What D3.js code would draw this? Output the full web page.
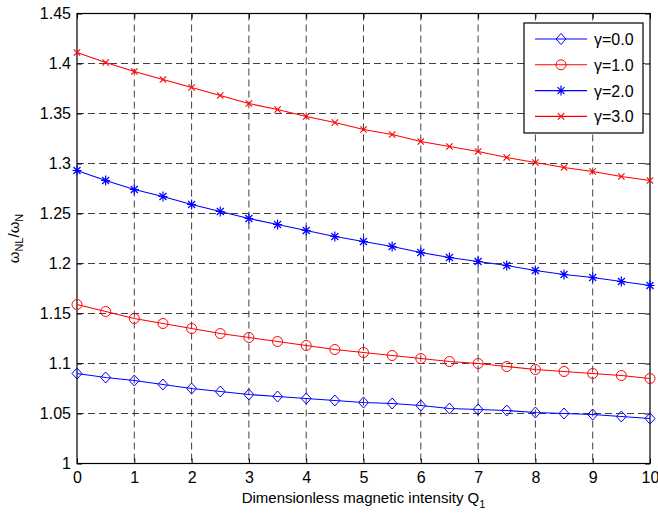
<!DOCTYPE html>
<html>
<head>
<meta charset="utf-8">
<script src="https://cdn.jsdelivr.net/npm/d3@7"></script>
<style>
  body { margin: 0; background: #fff; }
  svg { font-family: Arial, "Liberation Sans", sans-serif; }
</style>
</head>
<body>
<div id="chart"></div>
<script>
// Q1 values (0 .. 10 step 0.5)
const q1 = [0,0.5,1,1.5,2,2.5,3,3.5,4,4.5,5,5.5,6,6.5,7,7.5,8,8.5,9,9.5,10];

const gamma0 = [1.090,1.086,1.083,1.079,1.075,1.072,1.069,1.067,1.065,1.063,1.061,
                1.060,1.058,1.055,1.054,1.053,1.051,1.050,1.049,1.047,1.045];
const gamma1 = [1.159,1.152,1.145,1.140,1.135,1.130,1.126,1.122,1.118,1.114,1.111,
                1.108,1.105,1.102,1.100,1.097,1.094,1.092,1.090,1.088,1.085];
const gamma2 = [1.293,1.283,1.274,1.267,1.259,1.252,1.245,1.239,1.233,1.227,1.222,
                1.217,1.211,1.206,1.202,1.198,1.193,1.189,1.186,1.182,1.178];
const gamma3 = [1.411,1.401,1.392,1.384,1.376,1.368,1.360,1.354,1.347,1.341,1.334,
                1.329,1.322,1.317,1.312,1.306,1.301,1.296,1.292,1.287,1.283];

const xTicks = [0,1,2,3,4,5,6,7,8,9,10];
const yTicks = [1,1.05,1.1,1.15,1.2,1.25,1.3,1.35,1.4,1.45];

const series = [
  { name: 'γ=0.0', values: gamma0, color: '#0000ff', marker: 'diamond' },
  { name: 'γ=1.0', values: gamma1, color: '#ff0000', marker: 'circle' },
  { name: 'γ=2.0', values: gamma2, color: '#0000ff', marker: 'star' },
  { name: 'γ=3.0', values: gamma3, color: '#ff0000', marker: 'cross' },
];

const W = 658, H = 514;
const m = { left: 77, right: 8, top: 13.5, bottom: 50.5 };
const iw = W - m.left - m.right, ih = H - m.top - m.bottom;

const x = d3.scaleLinear().domain([0, 10]).range([0, iw]);
const y = d3.scaleLinear().domain([1, 1.45]).range([ih, 0]);

const svg = d3.select('#chart').append('svg').attr('width', W).attr('height', H);
const g = svg.append('g').attr('transform', `translate(${m.left},${m.top})`);

// grid
g.append('g').selectAll('line').data(xTicks.slice(1, -1)).join('line')
  .attr('x1', d => x(d)).attr('x2', d => x(d)).attr('y1', 0).attr('y2', ih)
  .attr('stroke', '#000').attr('stroke-opacity', 0.75).attr('stroke-dasharray', '7,4');
g.append('g').selectAll('line').data(yTicks.slice(1, -1)).join('line')
  .attr('y1', d => y(d)).attr('y2', d => y(d)).attr('x1', 0).attr('x2', iw)
  .attr('stroke', '#000').attr('stroke-opacity', 0.75).attr('stroke-dasharray', '7,4');

// axes (ticks inside)
const fmtY = d => d3.format('')(+d.toFixed(2));
const axB = g.append('g').attr('transform', `translate(0,${ih})`)
  .call(d3.axisBottom(x).tickValues(xTicks).tickSize(-5).tickPadding(8).tickFormat(d3.format('d')));
const axL = g.append('g')
  .call(d3.axisLeft(y).tickValues(yTicks).tickSize(-5).tickPadding(6).tickFormat(fmtY));
const axT = g.append('g').call(d3.axisTop(x).tickValues(xTicks).tickSize(-5).tickFormat(''));
const axR = g.append('g').attr('transform', `translate(${iw},0)`)
  .call(d3.axisRight(y).tickValues(yTicks).tickSize(-5).tickFormat(''));
[axB, axL, axT, axR].forEach(a => {
  a.select('.domain').remove();
  a.selectAll('line').attr('stroke', '#000');
  a.selectAll('text').attr('fill', '#000').style('font-size', '16px');
});
g.append('rect').attr('width', iw).attr('height', ih)
  .attr('fill', 'none').attr('stroke', '#000').attr('stroke-width', 1.2);

// markers
function drawMarker(sel, type, color) {
  if (type === 'diamond') {
    sel.append('path').attr('d', 'M0,-5.5L5,0L0,5.5L-5,0Z')
      .attr('fill', 'none').attr('stroke', color);
  } else if (type === 'circle') {
    sel.append('circle').attr('r', 5).attr('fill', 'none').attr('stroke', color);
  } else if (type === 'star') {
    sel.append('path').attr('d', 'M-4.5,0H4.5M0,-5V5M-3.5,-3.5L3.5,3.5M-3.5,3.5L3.5,-3.5')
      .attr('stroke', color).attr('stroke-width', 1.2);
  } else {
    sel.append('path').attr('d', 'M-3.2,-3.2L3.2,3.2M-3.2,3.2L3.2,-3.2')
      .attr('stroke', color).attr('stroke-width', 1.1);
  }
}

const line = d3.line().x((d, i) => x(q1[i])).y(d => y(d));
series.forEach(s => {
  g.append('path').datum(s.values).attr('d', line)
    .attr('fill', 'none').attr('stroke', s.color).attr('stroke-width', 1.1);
  s.values.forEach((v, i) => {
    const mk = g.append('g').attr('transform', `translate(${x(q1[i])},${y(v)})`);
    drawMarker(mk, s.marker, s.color);
  });
});

// legend
const lg = svg.append('g').attr('transform', 'translate(524,23)');
lg.append('rect').attr('width', 119).attr('height', 110)
  .attr('fill', '#fff').attr('stroke', '#000').attr('stroke-width', 1.2);
series.forEach((s, i) => {
  const yy = 16 + i * 25.8;
  lg.append('line').attr('x1', 11).attr('x2', 63).attr('y1', yy).attr('y2', yy)
    .attr('stroke', s.color).attr('stroke-width', 1.1);
  drawMarker(lg.append('g').attr('transform', `translate(37,${yy})`), s.marker, s.color);
  lg.append('text').attr('x', 70).attr('y', yy + 6).text(s.name)
    .style('font-size', '16px').attr('fill', '#000');
});

// axis labels
const xl = svg.append('text').attr('x', m.left + iw / 2).attr('y', 503)
  .attr('text-anchor', 'middle').style('font-size', '15px').attr('fill', '#000');
xl.append('tspan').text('Dimensionless magnetic intensity Q');
xl.append('tspan').attr('dy', 5).style('font-size', '11px').text('1');

const yl = svg.append('text')
  .attr('transform', `translate(19,${m.top + ih / 2}) rotate(-90)`)
  .attr('text-anchor', 'middle').style('font-size', '15px').attr('fill', '#000');
yl.append('tspan').text('ω');
yl.append('tspan').attr('dy', 4).style('font-size', '11px').text('NL');
yl.append('tspan').attr('dy', -4).text('/ω');
yl.append('tspan').attr('dy', 4).style('font-size', '11px').text('N');
</script>
</body>
</html>
